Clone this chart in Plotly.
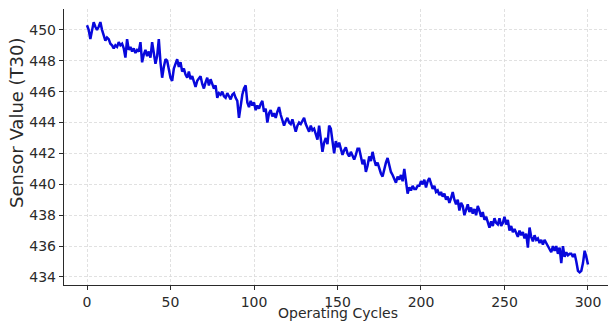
import plotly.graph_objects as go

cycles = list(range(0, 301))
sensor_t30 = [
    450.3, 450.0, 449.4, 450.1, 450.5, 450.2, 450.0, 450.2, 450.5, 450.0,
    449.6, 449.3, 449.5, 449.4, 449.1, 449.0, 448.8, 449.0, 448.9, 449.2,
    449.0, 449.1, 448.8, 448.2, 449.4, 448.7, 448.9, 448.6, 448.8, 448.5,
    448.7, 448.6, 449.2, 447.9, 448.4, 448.7, 448.3, 448.6, 448.2, 449.2,
    448.5, 447.8, 448.3, 449.4, 447.9, 446.9, 447.6, 448.1, 448.0, 447.4,
    446.9, 446.7, 447.5, 447.8, 448.1, 447.6, 447.9, 447.3, 447.5, 447.1,
    446.9, 447.3, 446.8, 447.0, 446.6, 446.3, 446.7, 446.9, 447.0, 446.5,
    446.2, 446.6, 446.9, 446.4, 446.8, 446.5, 446.2, 446.4, 445.6, 445.9,
    445.8, 446.0, 445.7, 445.6, 445.9, 445.7, 445.5, 445.8, 445.9, 445.6,
    445.4, 444.3, 445.1, 445.8, 446.2, 446.4, 445.3, 445.0, 445.4, 445.1,
    445.3, 444.8, 445.1, 444.9, 445.2, 445.4, 444.7, 444.9, 444.0, 444.6,
    444.8, 444.4, 444.6, 444.3, 444.7, 445.0, 444.5, 444.2, 443.8, 444.1,
    444.3, 444.0, 443.9, 444.2, 443.7, 443.4, 443.8, 444.0, 443.9, 444.1,
    444.3, 443.9, 443.6, 443.4, 443.8, 443.5, 443.6, 443.2, 442.9, 443.8,
    443.1, 442.1, 442.7, 443.0, 442.6, 443.8, 443.6, 442.8, 442.0, 442.8,
    442.4, 442.7, 442.3, 441.9, 442.2, 442.4, 442.0, 441.8, 442.1, 441.9,
    441.6, 441.9, 442.3, 442.3, 441.7, 441.3, 441.6, 440.8, 441.2, 441.8,
    441.5, 442.1, 441.6, 441.2, 441.4, 441.0, 440.7, 440.5, 441.0, 441.4,
    441.7, 441.2, 440.8, 440.6, 440.4, 440.1, 440.5, 440.3, 440.6, 440.2,
    441.0, 440.3, 439.4, 439.8, 439.6, 439.9, 439.7, 439.7, 439.9, 439.9,
    440.2, 440.0, 440.3, 439.8, 440.2, 440.4, 440.1, 439.7, 439.9, 439.5,
    439.6, 439.3, 439.5, 439.2, 439.4, 439.0, 439.2, 438.8, 439.1, 439.5,
    439.0, 438.7, 439.0, 438.3, 438.8, 438.6, 438.0, 438.4, 438.7, 438.2,
    438.5, 438.1, 438.4, 438.0, 438.6, 438.3, 437.9, 438.2, 437.7, 437.9,
    437.6, 437.2, 437.6, 437.3, 437.8, 437.5, 437.4, 437.8, 437.3, 437.5,
    437.9, 437.4, 437.7, 437.0, 437.3, 436.9, 437.1, 436.8, 436.6, 437.0,
    436.7, 436.9, 436.5, 436.8, 435.9, 437.2, 436.6, 436.3, 436.7, 436.4,
    436.5, 436.2, 436.4, 436.1, 436.4, 436.2, 436.0, 435.9, 435.6, 436.0,
    435.7, 436.0, 435.5, 435.9, 434.9, 436.0, 435.3, 435.6, 435.4, 435.5,
    435.5, 435.3, 435.5, 435.0, 434.4, 434.3, 434.4, 434.9, 435.7, 435.3,
    434.8,
]
x_ticks = [0, 50, 100, 150, 200, 250, 300]
y_ticks = [434, 436, 438, 440, 442, 444, 446, 448, 450]
x_title = "Operating Cycles"
y_title = "Sensor Value (T30)"

fig = go.Figure()
fig.add_trace(go.Scatter(
    x=cycles, y=sensor_t30, mode="lines",
    line=dict(color="#0808dc", width=2.5),
    showlegend=False, hoverinfo="skip",
))

axis_common = dict(
    showgrid=True, gridcolor="#d9d9d9", griddash="3px,2px", gridwidth=0.8,
    showline=True, linecolor="#2a2a2a", linewidth=1.2,
    ticks="outside", ticklen=4, tickcolor="#2a2a2a", tickwidth=1,
    zeroline=False, automargin=False,
    tickfont=dict(family="DejaVu Sans", size=14, color="#2a2a2a"),
)

fig.update_layout(
    width=608, height=321,
    margin=dict(l=64, r=0, t=9, b=36),
    paper_bgcolor="white", plot_bgcolor="white",
    xaxis=dict(range=[-13.77, 311.98], tickvals=x_ticks, **axis_common),
    yaxis=dict(range=[433.48, 451.35], tickvals=y_ticks, **axis_common),
    annotations=[
        dict(text=x_title, xref="paper", yref="paper", x=0.5037, y=0,
             xanchor="center", yanchor="middle", yshift=-28, showarrow=False,
             font=dict(family="DejaVu Sans", size=14, color="#2a2a2a")),
        dict(text=y_title, xref="paper", yref="paper", x=0, y=0.587,
             xanchor="center", yanchor="middle", xshift=-47, textangle=-90,
             showarrow=False,
             font=dict(family="DejaVu Sans", size=18, color="#2a2a2a")),
    ],
)

fig.write_html(
    "out.html",
    config={"displayModeBar": False, "staticPlot": True},
    post_script="document.body.style.margin='0';document.body.style.overflow='hidden';",
)
